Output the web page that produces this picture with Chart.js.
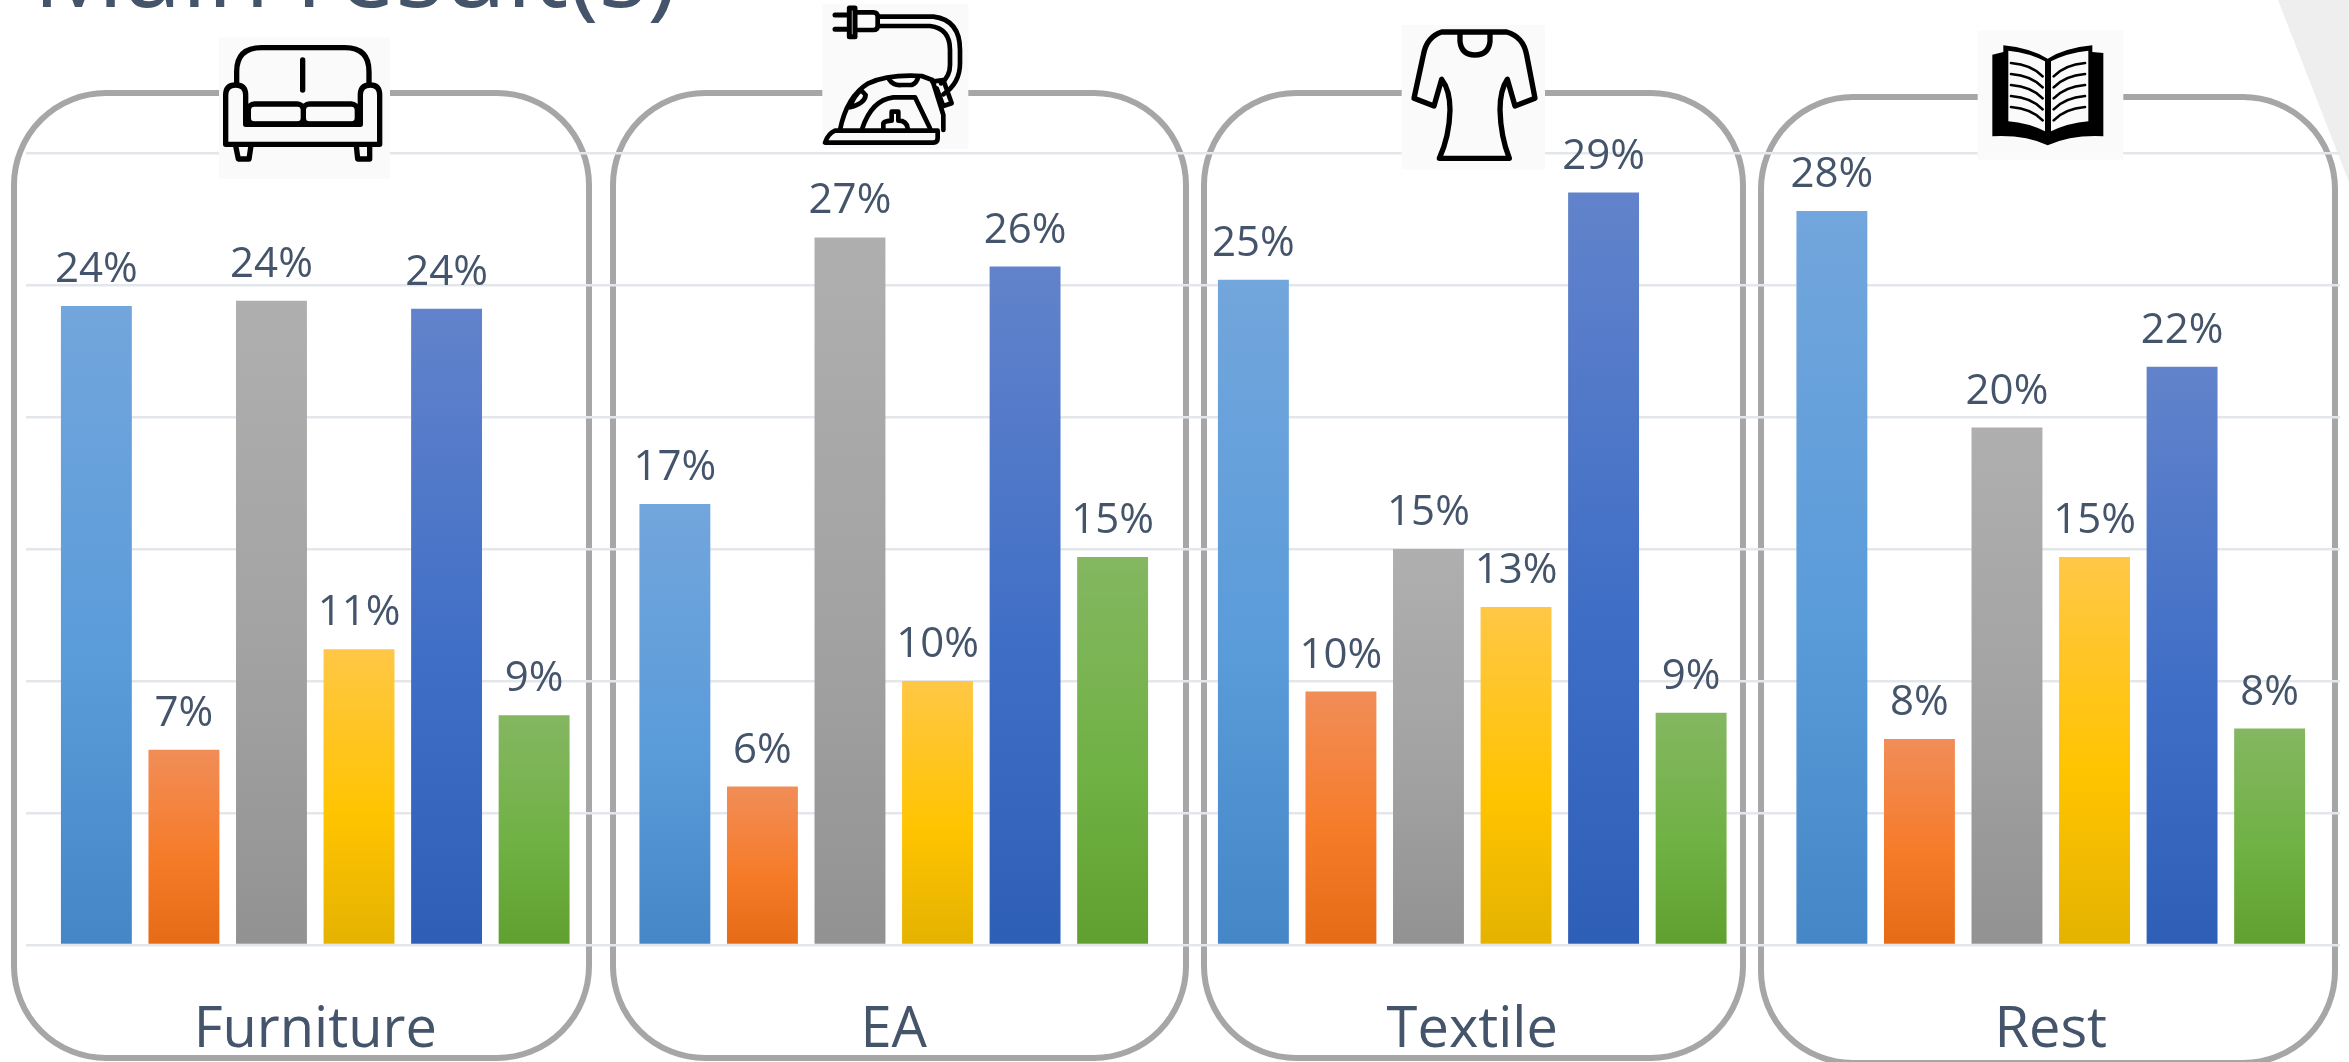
<!DOCTYPE html>
<html>
<head>
<meta charset="utf-8">
<title>Main result(s)</title>
<script src="https://cdn.jsdelivr.net/npm/chart.js@4"></script>
<style>
  html, body { margin: 0; padding: 0; background: #fff; overflow: hidden; }
  #grafico { display: block; }
</style>
</head>
<body>
<canvas id="grafico" width="2349" height="1062"></canvas>
<script>
const categorias = ["Furniture", "EA", "Textile", "Rest"];

// one array per bar colour, in percent, one value per category
const azulClaro = [24.2, 16.7, 25.2, 27.8];
const laranja = [7.4, 6.0, 9.6, 7.8];
const cinza = [24.4, 26.8, 15.0, 19.6];
const amarelo = [11.2, 10.0, 12.8, 14.7];
const azul = [24.1, 25.7, 28.5, 21.9];
const verde = [8.7, 14.7, 8.8, 8.2];

const COR_TEXTO = "#44546a";
const FONTE = '"Open Sans", sans-serif';

// top, middle and bottom colour of each bar gradient
const gradientes = {
  azulClaro: ["#72a6dc", "#5a9bda", "#4586c6"],
  laranja: ["#f18d58", "#f67b28", "#e56b17"],
  cinza: ["#afafaf", "#a2a2a2", "#929292"],
  amarelo: ["#ffc746", "#ffc400", "#e4b200"],
  azul: ["#6283cb", "#3f6ec6", "#2e5fb6"],
  verde: ["#84b761", "#70b144", "#60a030"]
};

// rounded boxes around each group: left, top, right, bottom
const caixas = [
  [14, 93, 589, 1058],
  [613, 93, 1186, 1058],
  [1204, 93, 1743, 1058],
  [1761, 97, 2335, 1063]
];

function corBarra(nome) {
  return (context) => {
    const cores = gradientes[nome];
    if (context.type !== "data") return cores[1];
    const y = context.chart.scales.y;
    const topo = y.getPixelForValue(context.raw);
    const base = y.getPixelForValue(0);
    // the scale has no pixels yet before the first layout
    if (!isFinite(topo) || !isFinite(base)) return cores[1];
    const g = context.chart.ctx.createLinearGradient(0, topo, 0, base);
    g.addColorStop(0, cores[0]);
    g.addColorStop(0.56, cores[1]);
    g.addColorStop(1, cores[2]);
    return g;
  };
}

function serie(nome, valores) {
  return { label: nome, data: valores, backgroundColor: corBarra(nome) };
}

// icons are sketched at 3x, inside a pale square, origin at (ox, oy)
function icone(ctx, ox, oy, quadro, desenho) {
  ctx.save();
  ctx.translate(ox, oy);
  ctx.scale(1 / 3, 1 / 3);
  ctx.fillStyle = "#fafafa";
  ctx.fillRect(quadro[0], quadro[1], quadro[2] - quadro[0], quadro[3] - quadro[1]);
  ctx.strokeStyle = "#000";
  ctx.fillStyle = "#000";
  ctx.lineJoin = "round";
  ctx.lineCap = "round";
  desenho(ctx);
  ctx.restore();
}

function traco(ctx, largura, caminho) {
  ctx.lineWidth = largura;
  ctx.stroke(new Path2D(caminho));
}

function sofa(ctx) {
  traco(ctx, 16, "M65,148 L65,110 Q65,38 140,38 L390,38 Q462,38 462,110 L462,148");
  traco(ctx, 16, "M263,75 L263,165");
  traco(ctx, 16, "M32,328 L32,180 Q32,150 62,150 Q92,150 92,180 L92,268 L436,268 L436,180 Q436,150 466,150 Q494,150 494,180 L494,328 Z");
  ctx.lineWidth = 16;
  ctx.beginPath();
  ctx.roundRect(100, 207, 165, 60, 18);
  ctx.roundRect(265, 207, 162, 60, 18);
  ctx.stroke();
  traco(ctx, 16, "M62,332 L70,372 L102,372 L108,332 M424,332 L428,372 L464,372 L464,332");
}

function ferro(ctx) {
  traco(ctx, 15, "M60,45 L98,45 M60,88 L98,88");
  traco(ctx, 15, "M103,24 L120,24 L120,110 L103,110 Z");
  traco(ctx, 14, "M125,37 L175,37 Q188,37 188,50 L188,78 Q188,90 175,90 L125,90");
  traco(ctx, 14, "M190,50 L355,50 Q435,60 435,150 L435,190 Q435,250 385,283");
  traco(ctx, 14, "M190,78 L345,78 Q405,85 405,150 L405,195 Q405,230 378,250");
  traco(ctx, 14, "M30,428 L355,428 Q368,428 368,415 L368,392 L60,392 Q40,400 30,428 Z");
  traco(ctx, 14, "M75,390 Q95,290 160,250 Q220,222 320,228 L352,240 L385,345 L385,390");
  traco(ctx, 14, "M222,238 Q235,258 260,255 L290,255 Q305,250 310,230");
  traco(ctx, 14, "M105,322 Q150,310 152,285 L138,270 Q115,290 105,322 Z");
  traco(ctx, 14, "M142,385 Q170,300 235,292 L300,292 L345,385");
  traco(ctx, 14, "M205,385 L205,370 Q210,362 230,362 L230,335 L250,335 L250,362 Q275,362 278,385");
  traco(ctx, 14, "M352,245 L385,240 L410,310 L385,318 L365,265");
}

function camisa(ctx) {
  traco(ctx, 16, "M125,36 L320,36 Q370,50 380,105 L405,235 L345,258 L322,178 Q300,210 300,270 Q302,350 328,415 L118,415 Q148,350 150,270 Q150,210 125,178 L102,258 L42,235 L70,105 Q80,50 125,36 Z");
  traco(ctx, 16, "M180,40 L180,65 Q185,105 225,105 Q265,105 270,65 L270,40");
}

function livro(ctx) {
  ctx.fill(new Path2D("M52,80 L85,72 L85,52 Q165,60 218,92 Q270,60 352,52 L352,72 L385,75 L385,325 Q290,320 218,352 Q150,320 52,325 Z"));
  ctx.fillStyle = "#fafafa";
  ctx.fill(new Path2D("M100,68 Q165,75 210,100 L210,310 Q160,285 100,280 Z"));
  ctx.fill(new Path2D("M228,100 Q275,75 340,68 L340,280 Q280,285 228,310 Z"));
  for (let i = 0; i < 5; i++) {
    const d = i * 33;
    traco(ctx, 8, `M108,${105 + d} Q170,${110 + d} 203,${145 + d}`);
    traco(ctx, 8, `M330,${105 + d} Q270,${110 + d} 236,${145 + d}`);
  }
}

const fundo = {
  id: "fundo",
  beforeDraw(chart) {
    const ctx = chart.ctx;
    ctx.save();
    ctx.fillStyle = "#fff";
    ctx.fillRect(0, 0, chart.width, chart.height);
    // pale corner of the slide
    ctx.fillStyle = "#eeeeee";
    ctx.beginPath();
    ctx.moveTo(2278, 0);
    ctx.lineTo(2349, 0);
    ctx.lineTo(2349, 182);
    ctx.closePath();
    ctx.fill();
    ctx.strokeStyle = "#a6a6a6";
    ctx.lineWidth = 6;
    caixas.forEach(c => {
      ctx.beginPath();
      ctx.roundRect(c[0], c[1], c[2] - c[0], c[3] - c[1], 92);
      ctx.stroke();
    });
    ctx.restore();
  }
};

const rotulos = {
  id: "rotulos",
  afterDatasetsDraw(chart) {
    const ctx = chart.ctx;
    ctx.save();
    ctx.fillStyle = COR_TEXTO;
    ctx.font = "42px " + FONTE;
    ctx.textAlign = "center";
    ctx.textBaseline = "alphabetic";
    chart.data.datasets.forEach((ds, i) => {
      chart.getDatasetMeta(i).data.forEach((barra, j) => {
        ctx.fillText(Math.round(ds.data[j]) + "%", barra.x, barra.y - 24);
      });
    });
    ctx.restore();
  }
};

const enfeites = {
  id: "enfeites",
  afterDraw(chart) {
    const ctx = chart.ctx;
    icone(ctx, 215, 35, [12, 8, 525, 432], sofa);
    icone(ctx, 815, 0, [22, 12, 460, 446], ferro);
    icone(ctx, 1400, 20, [5, 15, 435, 448], camisa);
    icone(ctx, 1975, 28, [8, 8, 445, 395], livro);
    // slide heading, cut by the top edge
    ctx.save();
    ctx.fillStyle = COR_TEXTO;
    ctx.font = "102px " + FONTE;
    ctx.textAlign = "left";
    ctx.textBaseline = "alphabetic";
    ctx.fillText("Main result(s)", 33, 7);
    ctx.restore();
  }
};

new Chart(document.getElementById("grafico").getContext("2d"), {
  type: "bar",
  data: {
    labels: categorias,
    datasets: [
      serie("azulClaro", azulClaro),
      serie("laranja", laranja),
      serie("cinza", cinza),
      serie("amarelo", amarelo),
      serie("azul", azul),
      serie("verde", verde)
    ]
  },
  plugins: [fundo, rotulos, enfeites],
  options: {
    responsive: false,
    animation: false,
    categoryPercentage: 0.908,
    barPercentage: 0.81,
    layout: { padding: { left: 26, right: 9, top: 153, bottom: 0 } },
    plugins: { legend: { display: false }, title: { display: false }, tooltip: { enabled: false } },
    scales: {
      x: {
        grid: { display: false },
        border: { display: false },
        // leaves the plot bottom where the zero line belongs
        afterFit(scale) { scale.height = 117; },
        ticks: {
          color: COR_TEXTO,
          font: { family: FONTE, size: 56 },
          padding: 44,
          maxRotation: 0,
          autoSkip: false
        }
      },
      y: {
        min: 0,
        max: 30,
        grid: { color: "#e3e7ec", lineWidth: 2.5, drawTicks: false },
        border: { display: false },
        ticks: { display: false, stepSize: 5 }
      }
    }
  }
});
</script>
</body>
</html>
